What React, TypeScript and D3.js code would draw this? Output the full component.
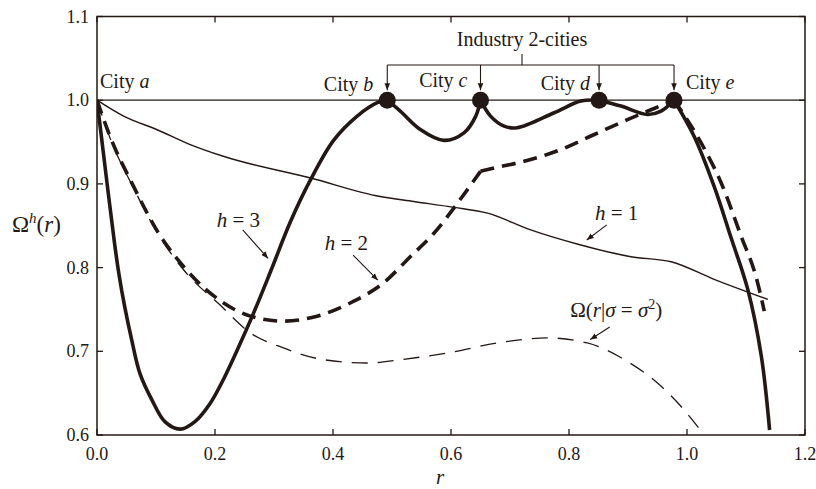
import React from 'react'
import * as d3 from 'd3'

type Pt = [number, number]

// r, Omega values
const h1Points: Pt[] = [
  [0, 1], [0.045, 0.981], [0.101, 0.965], [0.158, 0.947], [0.214, 0.933], [0.362, 0.907],
  [0.48, 0.885], [0.537, 0.879], [0.605, 0.872], [0.662, 0.865], [0.735, 0.845],
  [0.82, 0.827], [0.905, 0.813], [0.973, 0.807], [1.046, 0.786], [1.137, 0.762],
]

const h2Points: Pt[] = [
  [0, 1], [0.022, 0.957], [0.062, 0.897], [0.101, 0.845], [0.152, 0.797], [0.214, 0.758],
  [0.26, 0.742], [0.316, 0.736], [0.373, 0.742], [0.43, 0.758], [0.486, 0.782],
  [0.531, 0.813], [0.571, 0.841], [0.611, 0.877], [0.65, 0.915],
  [0.673, 0.919], [0.724, 0.927], [0.786, 0.941], [0.843, 0.959], [0.9, 0.977],
  [0.961, 0.995], [0.978, 1],
  [1.024, 0.949], [1.058, 0.901], [1.092, 0.837], [1.117, 0.789], [1.131, 0.748],
]
const h2Kinks = [0.65, 0.978]

const h3Points: Pt[] = [
  [0, 1], [0.012, 0.93], [0.029, 0.833], [0.037, 0.793], [0.047, 0.753], [0.059, 0.713],
  [0.073, 0.673], [0.093, 0.642], [0.115, 0.616], [0.141, 0.607], [0.166, 0.616],
  [0.192, 0.638], [0.214, 0.666], [0.24, 0.705], [0.265, 0.745], [0.294, 0.795],
  [0.328, 0.855], [0.362, 0.905], [0.401, 0.952], [0.441, 0.981], [0.475, 0.997], [0.492, 1],
  [0.514, 0.987], [0.548, 0.965], [0.588, 0.952], [0.622, 0.961], [0.642, 0.981], [0.65, 1],
  [0.667, 0.981], [0.69, 0.969], [0.712, 0.967], [0.775, 0.985], [0.82, 0.999], [0.851, 1],
  [0.888, 0.993], [0.933, 0.983], [0.956, 0.987], [0.978, 1],
  [1.012, 0.957], [1.046, 0.897], [1.075, 0.835], [1.103, 0.774], [1.126, 0.694], [1.14, 0.606],
]

const omegaPoints: Pt[] = [
  [0, 1], [0.022, 0.955], [0.062, 0.895], [0.101, 0.843], [0.152, 0.793], [0.206, 0.757],
  [0.26, 0.722], [0.316, 0.704], [0.384, 0.69], [0.458, 0.686], [0.514, 0.69],
  [0.594, 0.698], [0.679, 0.71], [0.763, 0.716], [0.831, 0.71], [0.894, 0.69],
  [0.95, 0.662], [0.99, 0.634], [1.027, 0.602], [1.04, 0.59],
]

const cityNames = ['a', 'b', 'c', 'd', 'e']
const cityR = [0, 0.492, 0.65, 0.851, 0.978]
const industryCities = [1, 2, 3, 4]

const xTicks = [0, 0.2, 0.4, 0.6, 0.8, 1.0, 1.2]
const yTicks = [0.6, 0.7, 0.8, 0.9, 1.0, 1.1]

const W = 816
const H = 489
const INK = '#231815'

const x = d3.scaleLinear().domain([0, 1.2]).range([97, 805])
const y = d3.scaleLinear().domain([0.6, 1.1]).range([435, 16.5])

const line = d3.line<Pt>().x(d => x(d[0])).y(d => y(d[1])).curve(d3.curveMonotoneX)
const smoothLine = d3.line<Pt>().x(d => x(d[0])).y(d => y(d[1])).curve(d3.curveCatmullRom.alpha(0.5))

const splitAt = (pts: Pt[], breaks: number[]): Pt[][] => {
  const segs: Pt[][] = [[]]
  pts.forEach((p, i) => {
    segs[segs.length - 1].push(p)
    if (i > 0 && i < pts.length - 1 && breaks.some(b => Math.abs(b - p[0]) < 1e-6)) segs.push([p])
  })
  return segs
}

// annotation label + pointer, in data coordinates
const annotations = [
  { key: 'h3', at: [0.203, 0.848], from: [0.247, 0.845], to: [0.290, 0.811] },
  { key: 'h2', at: [0.386, 0.821], from: [0.434, 0.815], to: [0.476, 0.785] },
  { key: 'h1', at: [0.844, 0.857], from: [0.864, 0.851], to: [0.830, 0.833] },
  { key: 'om', at: [0.802, 0.741], from: [0.869, 0.729], to: [0.836, 0.714] },
]

const AnnotationText: React.FC<{ k: string }> = ({ k }) => {
  if (k === 'om') {
    return (
      <>
        <tspan>Ω(</tspan><tspan fontStyle="italic">r</tspan><tspan>|</tspan>
        <tspan fontStyle="italic">σ</tspan><tspan> = </tspan><tspan fontStyle="italic">σ</tspan>
        <tspan fontSize={14} dy={-8}>2</tspan><tspan dy={8}>)</tspan>
      </>
    )
  }
  return (
    <>
      <tspan fontStyle="italic">h</tspan><tspan> = {k.slice(1)}</tspan>
    </>
  )
}

export default function App() {
  const h3Segs = splitAt(h3Points, cityR.slice(1))
  const h2Segs = splitAt(h2Points, h2Kinks)
  const bracketY = 65
  const bracketL = x(cityR[1])
  const bracketR = x(cityR[4])
  const bracketMid = 522

  const cityLabelPos = [
    { dx: 3, baseline: 88, anchor: 'start' },
    { dx: -14, baseline: 91, anchor: 'end' },
    { dx: -13, baseline: 87, anchor: 'end' },
    { dx: -9, baseline: 90, anchor: 'end' },
    { dx: 12, baseline: 89, anchor: 'start' },
  ]

  return (
    <svg width={W} height={H} style={{ position: 'absolute', left: 0, top: 0, background: '#fff' }}
      fill={INK}>
      <style>{`text { font-family: 'Liberation Serif', 'DejaVu Serif', serif; }`}</style>
      <defs>
        <clipPath id="plot">
          <rect x={x(0)} y={y(1.1)} width={x(1.2) - x(0)} height={y(0.6) - y(1.1)} />
        </clipPath>
        <marker id="arr" viewBox="0 0 10 10" refX="10" refY="5" markerWidth="7" markerHeight="7"
          markerUnits="userSpaceOnUse" orient="auto">
          <path d="M0,1 L10,5 L0,9 Z" fill={INK} />
        </marker>
      </defs>

      {/* frame */}
      <rect x={x(0)} y={y(1.1)} width={x(1.2) - x(0)} height={y(0.6) - y(1.1)}
        fill="none" stroke={INK} strokeWidth={1.5} />

      {/* ticks */}
      {xTicks.map(t => (
        <g key={`x${t}`}>
          <line x1={x(t)} x2={x(t)} y1={y(0.6)} y2={y(0.6) - 6} stroke={INK} strokeWidth={1.3} />
          <line x1={x(t)} x2={x(t)} y1={y(1.1)} y2={y(1.1) + 6} stroke={INK} strokeWidth={1.3} />
          <text x={x(t)} y={460} textAnchor="middle" fontSize={18}>{t.toFixed(1)}</text>
        </g>
      ))}
      {yTicks.map(t => (
        <g key={`y${t}`}>
          <line x1={x(0)} x2={x(0) + 6} y1={y(t)} y2={y(t)} stroke={INK} strokeWidth={1.3} />
          <line x1={x(1.2)} x2={x(1.2) - 6} y1={y(t)} y2={y(t)} stroke={INK} strokeWidth={1.3} />
          <text x={89} y={y(t) + 6} textAnchor="end" fontSize={18}>{t.toFixed(1)}</text>
        </g>
      ))}

      {/* axis titles */}
      <text x={12} y={232} fontSize={23}>
        <tspan>Ω</tspan><tspan fontStyle="italic" fontSize={15} dy={-9}>h</tspan>
        <tspan dy={9}>(</tspan><tspan fontStyle="italic">r</tspan><tspan>)</tspan>
      </text>
      <text x={440} y={484} fontSize={21} fontStyle="italic" textAnchor="middle">r</text>

      {/* reference line at 1 */}
      <line x1={x(0)} x2={x(1.2)} y1={y(1)} y2={y(1)} stroke={INK} strokeWidth={1.3} />

      <g clipPath="url(#plot)" fill="none" stroke={INK}>
        <path d={line(omegaPoints) || ''} strokeWidth={1.3} strokeDasharray="16 10" />
        <path d={line(h1Points) || ''} strokeWidth={1.4} />
        {h2Segs.map((s, i) => (
          <path key={`h2${i}`} d={line(s) || ''} strokeWidth={3.6} strokeDasharray="14 8" />
        ))}
        {h3Segs.map((s, i) => (
          <path key={`h3${i}`} d={smoothLine(s) || ''} strokeWidth={3.6} strokeLinejoin="round" />
        ))}
      </g>

      {/* cities */}
      {industryCities.map(i => (
        <circle key={`dot${i}`} cx={x(cityR[i])} cy={y(1)} r={8.5} fill={INK} />
      ))}
      {cityNames.map((n, i) => (
        <text key={`city${n}`} x={x(cityR[i]) + cityLabelPos[i].dx} y={cityLabelPos[i].baseline}
          fontSize={20} textAnchor={cityLabelPos[i].anchor as 'start' | 'end'}>
          City <tspan fontStyle="italic">{n}</tspan>
        </text>
      ))}

      {/* Industry 2-cities bracket */}
      <text x={bracketMid} y={46} fontSize={20} textAnchor="middle">Industry 2-cities</text>
      <g stroke={INK} strokeWidth={1.1} fill="none">
        <line x1={bracketMid} x2={bracketMid} y1={54} y2={bracketY} />
        <line x1={bracketL} x2={bracketR} y1={bracketY} y2={bracketY} />
        {industryCities.map(i => (
          <line key={`br${i}`} x1={x(cityR[i])} x2={x(cityR[i])} y1={bracketY} y2={y(1) - 10}
            markerEnd="url(#arr)" />
        ))}
      </g>

      {/* curve labels */}
      {annotations.map(a => (
        <g key={a.key}>
          <text x={x(a.at[0])} y={y(a.at[1])} fontSize={21}><AnnotationText k={a.key} /></text>
          <line x1={x(a.from[0])} y1={y(a.from[1])} x2={x(a.to[0])} y2={y(a.to[1])}
            stroke={INK} strokeWidth={1.1} markerEnd="url(#arr)" />
        </g>
      ))}
    </svg>
  )
}
